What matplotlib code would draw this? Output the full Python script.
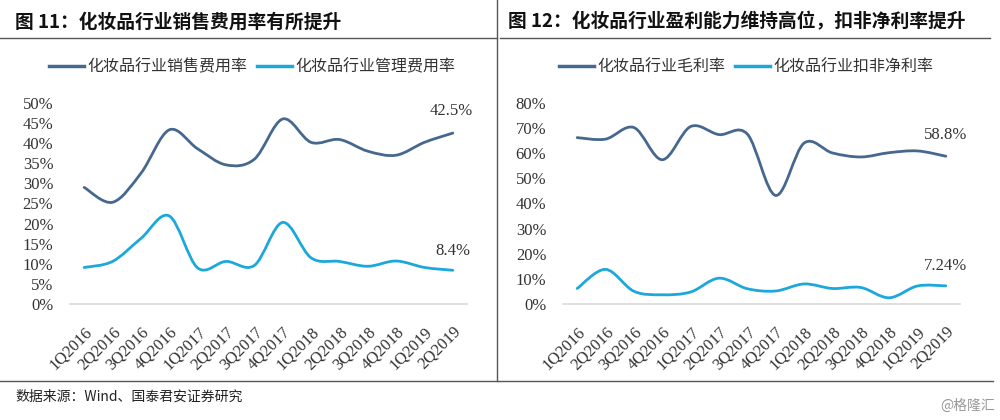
import matplotlib
matplotlib.use("Agg")
import matplotlib.pyplot as plt
from matplotlib.path import Path
from matplotlib.patches import PathPatch
from matplotlib.lines import Line2D

plt.rcParams['font.family'] = ['Noto Sans CJK SC', 'DejaVu Sans']

quarters = ["1Q2016", "2Q2016", "3Q2016", "4Q2016", "1Q2017", "2Q2017", "3Q2017",
            "4Q2017", "1Q2018", "2Q2018", "3Q2018", "4Q2018", "1Q2019", "2Q2019"]

# 图11 销售费用率 / 管理费用率 (%)
sales_rate = [29.0, 25.3, 32.5, 43.3, 38.6, 34.6, 36.0, 46.0, 40.2, 40.9, 38.0, 37.0, 40.2, 42.5]
admin_rate = [9.1, 10.6, 16.3, 21.9, 9.0, 10.6, 9.6, 20.3, 11.5, 10.6, 9.4, 10.7, 9.1, 8.4]

# 图12 毛利率 / 扣非净利率 (%)
gross_margin = [66.2, 65.6, 70.2, 57.4, 70.6, 67.4, 67.6, 43.2, 64.0, 60.1, 58.5, 60.2, 60.9, 58.8]
net_margin = [6.2, 13.8, 5.1, 3.7, 4.8, 10.3, 6.1, 5.2, 8.0, 6.2, 6.6, 2.5, 7.2, 7.24]

dark = "#46688f"
cyan = "#1ca8db"
txt = "#333333"


def smooth_path(ys):
    # excel风格的平滑线, 贝塞尔控制点取相邻点
    xs = list(range(len(ys)))
    n = len(xs)
    verts = [(xs[0], ys[0])]
    codes = [Path.MOVETO]
    for i in range(n - 1):
        a = i - 1 if i > 0 else i
        b = i + 2 if i + 2 < n else i + 1
        c1 = (xs[i] + (xs[i + 1] - xs[a]) / 6, ys[i] + (ys[i + 1] - ys[a]) / 6)
        c2 = (xs[i + 1] - (xs[b] - xs[i]) / 6, ys[i + 1] - (ys[b] - ys[i]) / 6)
        verts += [c1, c2, (xs[i + 1], ys[i + 1])]
        codes += [Path.CURVE4] * 3
    return Path(verts, codes)


def setup(ax, ymax, step):
    ax.set_xlim(-0.5, len(quarters) - 0.5)
    ax.set_ylim(0, ymax)
    ax.set_yticks(range(0, ymax + 1, step))
    ax.set_yticklabels(["%d%%" % v for v in range(0, ymax + 1, step)],
                       family='Liberation Serif', fontsize=12, color=txt)
    ax.set_xticks(range(len(quarters)))
    ax.set_xticklabels(quarters, rotation=45, ha='right', va='top',
                       rotation_mode='anchor', family='Liberation Serif',
                       fontsize=12, color=txt)
    ax.tick_params(axis='both', length=0)
    ax.tick_params(axis='x', pad=14)
    ax.tick_params(axis='y', pad=12)
    for s in ['top', 'right', 'left']:
        ax.spines[s].set_visible(False)
    ax.spines['bottom'].set_color('#d9d9d9')
    ax.spines['bottom'].set_linewidth(1.2)


fig = plt.figure(figsize=(10, 4.2), dpi=100)

ax1 = fig.add_axes([0.070, 0.276, 0.397, 0.479])
ax2 = fig.add_axes([0.563, 0.276, 0.397, 0.479])

setup(ax1, 50, 5)
setup(ax2, 80, 10)

for ax, s1, s2 in [(ax1, sales_rate, admin_rate), (ax2, gross_margin, net_margin)]:
    ax.add_patch(PathPatch(smooth_path(s1), fill=False, edgecolor=dark, lw=2.0, capstyle='round'))
    ax.add_patch(PathPatch(smooth_path(s2), fill=False, edgecolor=cyan, lw=2.0, capstyle='round'))

ax1.annotate("42.5%", (13, sales_rate[-1]), xytext=(-1, 16), textcoords='offset points',
             ha='center', va='center', family='Liberation Serif', fontsize=12, color=txt)
ax1.annotate("8.4%", (13, admin_rate[-1]), xytext=(0, 14), textcoords='offset points',
             ha='center', va='center', family='Liberation Serif', fontsize=12, color=txt)
ax2.annotate("58.8%", (13, gross_margin[-1]), xytext=(0, 15), textcoords='offset points',
             ha='center', va='center', family='Liberation Serif', fontsize=12, color=txt)
ax2.annotate("7.24%", (13, net_margin[-1]), xytext=(0, 14), textcoords='offset points',
             ha='center', va='center', family='Liberation Serif', fontsize=12, color=txt)

# 图例
h1 = [Line2D([], [], color=dark, lw=2.5), Line2D([], [], color=cyan, lw=2.5)]
fig.legend(h1, ["化妆品行业销售费用率", "化妆品行业管理费用率"], loc='center',
           bbox_to_anchor=(0.252, 1 - 67 / 420), ncol=2, frameon=False,
           fontsize=11.5, handlelength=2.2, handletextpad=0.2, columnspacing=0.6,
           labelcolor=txt)
fig.legend(h1, ["化妆品行业毛利率", "化妆品行业扣非净利率"], loc='center',
           bbox_to_anchor=(0.746, 1 - 67 / 420), ncol=2, frameon=False,
           fontsize=11.5, handlelength=2.2, handletextpad=0.2, columnspacing=0.6,
           labelcolor=txt)

# 标题和分隔线
fig.text(0.015, 1 - 22 / 420, "图 11：化妆品行业销售费用率有所提升", fontsize=13.5,
         fontweight='bold', va='center', ha='left', color='#111111')
fig.text(0.508, 1 - 22 / 420, "图 12：化妆品行业盈利能力维持高位，扣非净利率提升", fontsize=13.5,
         fontweight='bold', va='center', ha='left', color='#111111')
fig.add_artist(Line2D([0.0, 0.497], [1 - 38 / 420] * 2, color='#555555', lw=1.0))
fig.add_artist(Line2D([0.500, 0.990], [1 - 38 / 420] * 2, color='#555555', lw=1.0))
fig.add_artist(Line2D([0.497, 0.497], [1 - 381 / 420, 1.0], color='#555555', lw=1.0))
fig.add_artist(Line2D([0.0, 0.993], [1 - 381 / 420] * 2, color='#555555', lw=1.0))

fig.text(0.015, 1 - 397 / 420, "数据来源：Wind、国泰君安证券研究", fontsize=10,
         va='center', ha='left', color='#222222')
fig.text(0.995, 1 - 406 / 420, "@格隆汇", fontsize=10, va='center', ha='right', color='#999999')

fig.savefig("out.png", dpi=100)
